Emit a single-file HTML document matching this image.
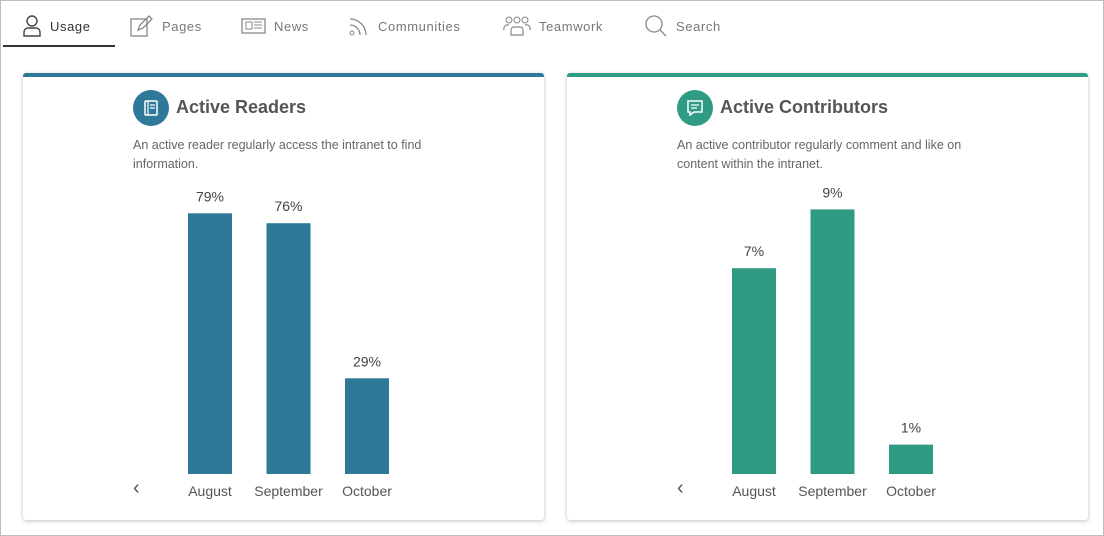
<!DOCTYPE html>
<html><head><meta charset="utf-8">
<style>
*{box-sizing:border-box;margin:0;padding:0}
body{width:1104px;height:536px;background:#fff;font-family:"Liberation Sans",sans-serif;position:relative;overflow:hidden}
.frame{position:absolute;left:0;top:0;width:1104px;height:536px;border:1px solid #bdbdbd}
.tab{position:absolute;top:14px;height:24px;display:flex;align-items:center;font-size:13px;color:#777;letter-spacing:.6px}
.tab svg{margin-right:8px}
.card{position:absolute;top:73px;width:521px;height:447px;background:#fff;box-shadow:0 1px 4px rgba(0,0,0,.25);border-radius:3px}
.card .bar-top{position:absolute;left:0;top:0;width:100%;height:4px;border-radius:3px 3px 0 0}
.icon{position:absolute;left:110px;top:17px;width:36px;height:36px;border-radius:50%}
.title{position:absolute;left:153px;top:24px;font-size:18px;font-weight:bold;color:#555}
.desc{position:absolute;left:110px;top:63px;width:310px;font-size:12.5px;line-height:19px;color:#666}
.chev{position:absolute;left:110px;top:404px;font-size:20px;color:#555}
svg.chart{position:absolute;left:0;top:0}
</style></head><body>
<div class="frame"></div>
<div class="tab" style="left:22px;color:#333">
<svg width="20" height="22" viewBox="0 0 20 22"><circle cx="10" cy="6" r="5" fill="none" stroke="#444" stroke-width="1.4"/><path d="M2 21v-4a4 4 0 0 1 4-4h8a4 4 0 0 1 4 4v4z" fill="none" stroke="#444" stroke-width="1.4"/></svg>Usage</div>
<div style="position:absolute;left:3px;top:45px;width:112px;height:2px;background:#333"></div>
<div class="tab" style="left:130px">
<svg width="24" height="22" viewBox="0 0 24 22"><rect x="1" y="4" width="16" height="17" fill="none" stroke="#888" stroke-width="1.3"/><path d="M8 15l2-5 9-9 3 3-9 9z" fill="none" stroke="#888" stroke-width="1.3"/></svg>Pages</div>
<div class="tab" style="left:241px">
<svg width="25" height="18" viewBox="0 0 25 18"><rect x="1" y="2" width="23" height="14" fill="none" stroke="#888" stroke-width="1.3"/><rect x="5" y="5" width="6" height="7" fill="none" stroke="#888"/><path d="M13 5h8M13 8h8M13 11h8" stroke="#888"/></svg>News</div>
<div class="tab" style="left:348px">
<svg width="22" height="22" viewBox="0 0 22 22"><circle cx="4" cy="18" r="2" fill="none" stroke="#888"/><path d="M2 10a10 10 0 0 1 10 10M2 4a16 16 0 0 1 16 16" fill="none" stroke="#888" stroke-width="1.3"/></svg>Communities</div>
<div class="tab" style="left:503px">
<svg width="28" height="20" viewBox="0 0 28 20"><circle cx="6" cy="4" r="3" fill="none" stroke="#888"/><circle cx="14" cy="4" r="3" fill="none" stroke="#888"/><circle cx="22" cy="4" r="3" fill="none" stroke="#888"/><path d="M1 14a4 4 0 0 1 5-5M27 14a4 4 0 0 0-5-5M8 19v-5a3 3 0 0 1 3-3h6a3 3 0 0 1 3 3v5z" fill="none" stroke="#888" stroke-width="1.2"/></svg>Teamwork</div>
<div class="tab" style="left:644px">
<svg width="24" height="24" viewBox="0 0 24 24"><circle cx="10" cy="10" r="8" fill="none" stroke="#888" stroke-width="1.3"/><path d="M16 16l6 6" stroke="#888" stroke-width="1.3"/></svg>Search</div>

<div class="card" id="c1" style="left:23px">
<div class="bar-top" style="background:#2e7898"></div>
<div class="icon" style="background:#2e7898"><svg width="36" height="36"><rect x="12" y="11" width="12" height="14" rx="1" fill="none" stroke="#fff" stroke-width="1.5"/><path d="M15 11v14M17 15h5M17 18h5" stroke="#fff" stroke-width="1.2"/></svg></div>
<div class="title">Active Readers</div>
<div class="desc">An active reader regularly access the intranet to find information.</div>
<div class="chev">&lsaquo;</div>
</div>
<div class="card" id="c2" style="left:567px">
<div class="bar-top" style="background:#2f9b85"></div>
<div class="icon" style="background:#2f9b85"><svg width="36" height="36"><path d="M11 11h14v11h-8l-4 3v-3h-2z" fill="none" stroke="#fff" stroke-width="1.5"/><path d="M14 15h8M14 18h6" stroke="#fff" stroke-width="1.2"/></svg></div>
<div class="title">Active Contributors</div>
<div class="desc">An active contributor regularly comment and like on content within the intranet.</div>
<div class="chev">&lsaquo;</div>
</div>
<script>
const categories=["August","September","October"];
const readersValues=[79,76,29];
const contributorsValues=[7,9,1];
const NS="http://www.w3.org/2000/svg";
function draw(cardId,values,pxPerUnit,color){
  const card=document.getElementById(cardId);
  const svg=document.createElementNS(NS,"svg");
  svg.setAttribute("class","chart");svg.setAttribute("width","521");svg.setAttribute("height","447");
  
  
  const base=401;
  const xPos=i=>165+i*78.5;
  const yPos=v=>base-v*pxPerUnit;
  values.forEach((v,i)=>{
    const r=document.createElementNS(NS,"rect");
    r.setAttribute("x",xPos(i));r.setAttribute("y",yPos(v));
    r.setAttribute("width",44);r.setAttribute("height",base-yPos(v));r.setAttribute("fill",color);
    
    
    svg.appendChild(r);
    const t=document.createElementNS(NS,"text");
    t.setAttribute("x",xPos(i)+22);t.setAttribute("y",yPos(v)-12);t.setAttribute("text-anchor","middle");
    t.setAttribute("font-size","14");t.setAttribute("fill","#444");t.textContent=v+"%";
    
    
    svg.appendChild(t);
    const c=document.createElementNS(NS,"text");
    c.setAttribute("x",xPos(i)+22);c.setAttribute("y",423);c.setAttribute("text-anchor","middle");
    c.setAttribute("font-size","14");c.setAttribute("fill","#555");c.textContent=categories[i];
    
    
    svg.appendChild(c);
  });
  card.appendChild(svg);
}
draw("c1",readersValues,3.3,"#2e7898");
draw("c2",contributorsValues,29.4,"#2f9b85");
</script>
</body></html>
